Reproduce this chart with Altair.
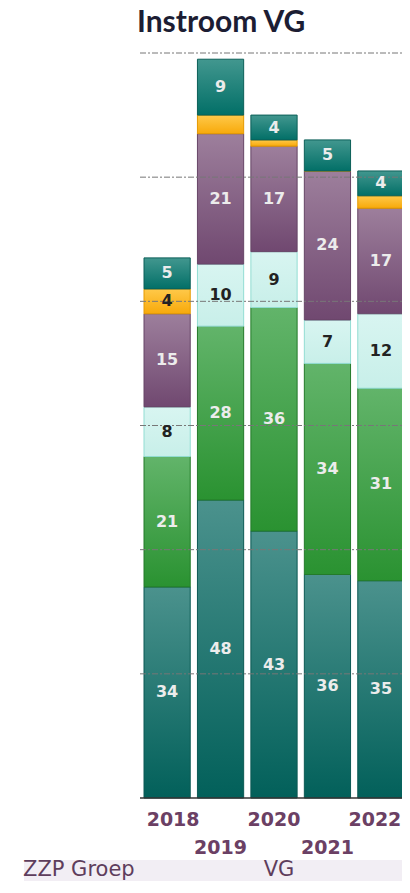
import altair as alt
import pandas as pd

# ---- data ----
years = ["2018", "2019", "2020", "2021", "2022"]
series = ["Groep 1", "Groep 2", "Groep 3", "Groep 4", "Groep 5", "Groep 6"]
s1 = [34, 48, 43, 36, 35]   # teal (bottom)
s2 = [21, 28, 36, 34, 31]   # green
s3 = [8, 10, 9, 7, 12]      # light cyan
s4 = [15, 21, 17, 24, 17]   # purple
s5 = [4, 3, 1, 0, 2]        # orange
s6 = [5, 9, 4, 5, 4]        # teal (top)
grid_values = [20, 40, 60, 80, 100, 120]
row1_years = ["2018", "2020", "2022"]
row2_years = ["2019", "2021"]
footer_labels = ["ZZP Groep", "VG"]

rows = []
for k, vals in enumerate([s1, s2, s3, s4, s5, s6]):
    for y, v in zip(years, vals):
        rows.append({"year": y, "series": series[k], "k": k, "value": v})
df = pd.DataFrame(rows)

# ---- styling ----
def grad(top, bottom):
    return {"gradient": "linear", "x1": 0, "x2": 0, "y1": 0, "y2": 1,
            "stops": [{"offset": 0, "color": top}, {"offset": 1, "color": bottom}]}

grads = [
    grad("#4b928d", "#02605a"),
    grad("#62b46a", "#2a9231"),
    grad("#d8f5f1", "#c8efe9"),
    grad("#9d7f9c", "#704870"),
    grad("#ffc94a", "#f7a90a"),
    grad("#42978f", "#026f67"),
]
strokes = ["#0b5954", "#237a29", "#92ddd3", "#664566", "#e59a00", "#0b5f58"]

fill_enc = {"condition": [{"test": f"datum.k == {i}", "value": grads[i]} for i in range(5)],
            "value": grads[5]}
stroke_enc = {"condition": [{"test": f"datum.k == {i}", "value": strokes[i]} for i in range(5)],
              "value": strokes[5]}

W, H = 394, 841
x_scale = alt.Scale(domain=years, range=[136, 396], paddingInner=0.135, paddingOuter=0)
y_scale = alt.Scale(domain=[0, 120], range=[758, 13], nice=False, zero=True)

base = alt.Chart(df).transform_stack(
    stack="value", groupby=["year"], sort=[alt.SortField("k", order="ascending")], as_=["y0", "y1"]
).transform_calculate(mid="(datum.y0 + datum.y1) / 2")

bars = base.mark_bar(strokeWidth=1).encode(
    x=alt.X("year:N", scale=x_scale, axis=None),
    y=alt.Y("y0:Q", scale=y_scale, axis=None),
    y2="y1:Q",
    fill=fill_enc,
    stroke=stroke_enc,
)

labels = base.transform_filter("datum.value >= 4").mark_text(
    font="DejaVu Sans", fontWeight="bold", fontSize=16, baseline="middle", align="center"
).encode(
    x=alt.X("year:N", scale=x_scale, axis=None),
    y=alt.Y("mid:Q", scale=y_scale, axis=None),
    text="value:Q",
    color=alt.condition("datum.k == 2 || datum.k == 4", alt.value("#222222"), alt.value("#ececec")),
)

grid = alt.Chart(pd.DataFrame({"g": grid_values})).mark_rule(
    color="#777777", strokeWidth=1, strokeDash=[6, 2, 2, 2]
).encode(
    y=alt.Y("g:Q", scale=y_scale, axis=None),
    x=alt.value(132), x2=alt.value(W),
)

baseline = alt.Chart(pd.DataFrame({"b": [0]})).mark_rule(color="#333333", strokeWidth=1.5).encode(
    y=alt.Y("b:Q", scale=y_scale, axis=None),
    x=alt.value(132), x2=alt.value(W),
)

year_style = dict(font="DejaVu Sans", fontWeight="bold", fontSize=19, color="#6b4064",
                  baseline="middle", align="center")
ydf1 = pd.DataFrame({"year": row1_years})
yl1a = alt.Chart(ydf1).transform_filter(f"datum.year == '{years[0]}'").mark_text(dx=6, **year_style).encode(
    x=alt.X("year:N", scale=x_scale, axis=None), y=alt.value(780), text="year:N")
yl1b = alt.Chart(ydf1).transform_filter(
    f"datum.year != '{years[0]}' && datum.year != '{years[-1]}'").mark_text(**year_style).encode(
    x=alt.X("year:N", scale=x_scale, axis=None), y=alt.value(780), text="year:N")
yl1c = alt.Chart(ydf1).transform_filter(f"datum.year == '{years[-1]}'").mark_text(dx=-6, **year_style).encode(
    x=alt.X("year:N", scale=x_scale, axis=None), y=alt.value(780), text="year:N")
yl2 = alt.Chart(pd.DataFrame({"year": row2_years})).mark_text(**year_style).encode(
    x=alt.X("year:N", scale=x_scale, axis=None), y=alt.value(808), text="year:N")

footer_df = pd.DataFrame({"label": [footer_labels[0]], "group": [footer_labels[1]]})
footer_bg = alt.Chart(footer_df).mark_rect(color="#f2eef4").encode(
    x=alt.value(16), x2=alt.value(W), y=alt.value(820), y2=alt.value(H))
footer_t1 = alt.Chart(footer_df).mark_text(
    font="DejaVu Sans", fontSize=21, color="#5e3d5c", align="left", baseline="middle"
).encode(x=alt.value(15), y=alt.value(830), text="label:N")
footer_t2 = alt.Chart(footer_df).mark_text(
    font="DejaVu Sans", fontSize=21, color="#5e3d5c", align="center", baseline="middle"
).encode(x=alt.value(271), y=alt.value(830), text="group:N")

chart = alt.layer(
    bars, grid, baseline, labels, yl1a, yl1b, yl1c, yl2, footer_bg, footer_t1, footer_t2
).properties(
    width=W, height=H,
    title=alt.TitleParams("Instroom VG", anchor="start", frame="group", dx=129, offset=2,
                          font="Lato", fontSize=30, fontWeight="bold", color="#1c1d33"),
    autosize=alt.AutoSizeParams(type="none"),
    padding={"top": 32, "left": 0, "right": 0, "bottom": 0},
).configure_view(stroke=None)

chart.save("out.html", embed_options={"renderer": "svg", "actions": False})
